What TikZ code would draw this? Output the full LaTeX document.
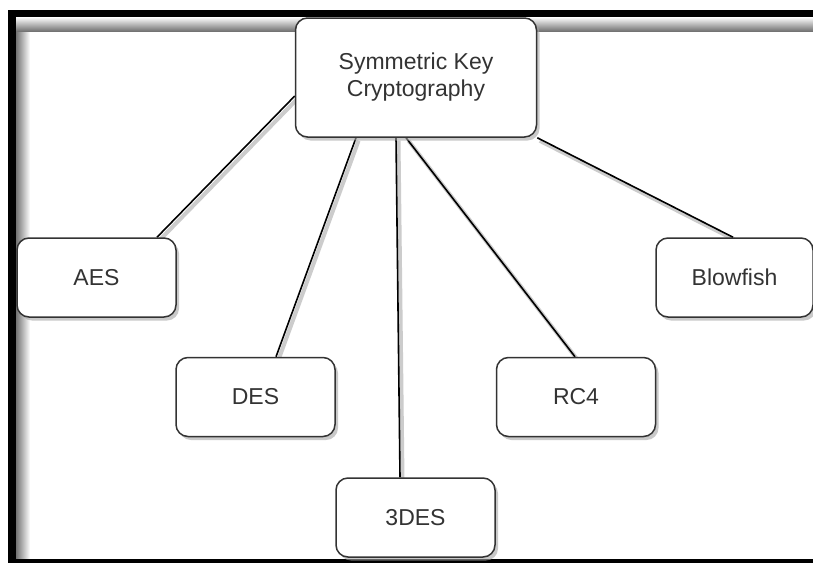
\documentclass[tikz,border=0pt]{standalone}
\usepackage{fontspec}
\setmainfont{Liberation Sans}
\usepackage{xcolor}
\usepackage{tikz}
\usetikzlibrary{shadows,backgrounds}
\definecolor{boxline}{HTML}{333333}

\begin{document}
\begin{tikzpicture}[x=1pt, y=-1pt,
	algo/.style={draw=boxline, line width=1.5pt, rounded corners=12pt, fill=white, text=boxline, minimum width=159pt, minimum height=79pt, inner sep=0pt, align=center, font=\fontsize{23}{27}\selectfont, drop shadow={shadow xshift=3pt, shadow yshift=-3.5pt, fill=black!35, opacity=0.6}},
	link/.style={draw=black, line width=1.6pt},
	linkshadow/.style={draw=black!20, line width=4pt}]
	\useasboundingbox (0,0) rectangle (813,562);
	\clip (0,0) rectangle (813,562);
	\node[algo, minimum width=241pt, minimum height=119pt] (skc) at (416,77.5) {Symmetric Key\\Cryptography};
	\node[algo] (aes) at (96.5,277.5) {AES};
	\node[algo] (des) at (255.5,397) {DES};
	\node[algo] (tdes) at (415.5,517.5) {3DES};
	\node[algo] (rc4) at (576,397) {RC4};
	\node[algo, minimum width=157pt] (blowfish) at (734.5,277.5) {Blowfish};
	\begin{scope}[on background layer]
		\fill[white] (0,0) rectangle (813,562);
		\shade[left color=black!55, right color=white] (16,17) rectangle (30,562);
		\shade[top color=white, bottom color=black!55] (16,17) rectangle (813,31);
		\draw[line width=7.5pt] (12,13.5) rectangle (840,563);
		\begin{scope}[transform canvas={shift={(2.5pt,-3pt)}}]
			\draw[linkshadow] ([yshift=-18.5pt]skc.west) -- ([xshift=60.5pt]aes.north);
			\draw[linkshadow] ([xshift=-60pt]skc.south) -- ([xshift=20.5pt]des.north);
			\draw[linkshadow] ([xshift=-20pt]skc.south) -- ([xshift=-15.5pt]tdes.north);
			\draw[linkshadow] ([xshift=-10pt]skc.south) -- ([xshift=-1pt]rc4.north);
			\draw[linkshadow] (skc.south east) -- ([xshift=-1.5pt]blowfish.north);
		\end{scope}
		\draw[link] ([yshift=-18.5pt]skc.west) -- ([xshift=60.5pt]aes.north);
		\draw[link] ([xshift=-60pt]skc.south) -- ([xshift=20.5pt]des.north);
		\draw[link] ([xshift=-20pt]skc.south) -- ([xshift=-15.5pt]tdes.north);
		\draw[link] ([xshift=-10pt]skc.south) -- ([xshift=-1pt]rc4.north);
		\draw[link] (skc.south east) -- ([xshift=-1.5pt]blowfish.north);
	\end{scope}
\end{tikzpicture}
\end{document}
